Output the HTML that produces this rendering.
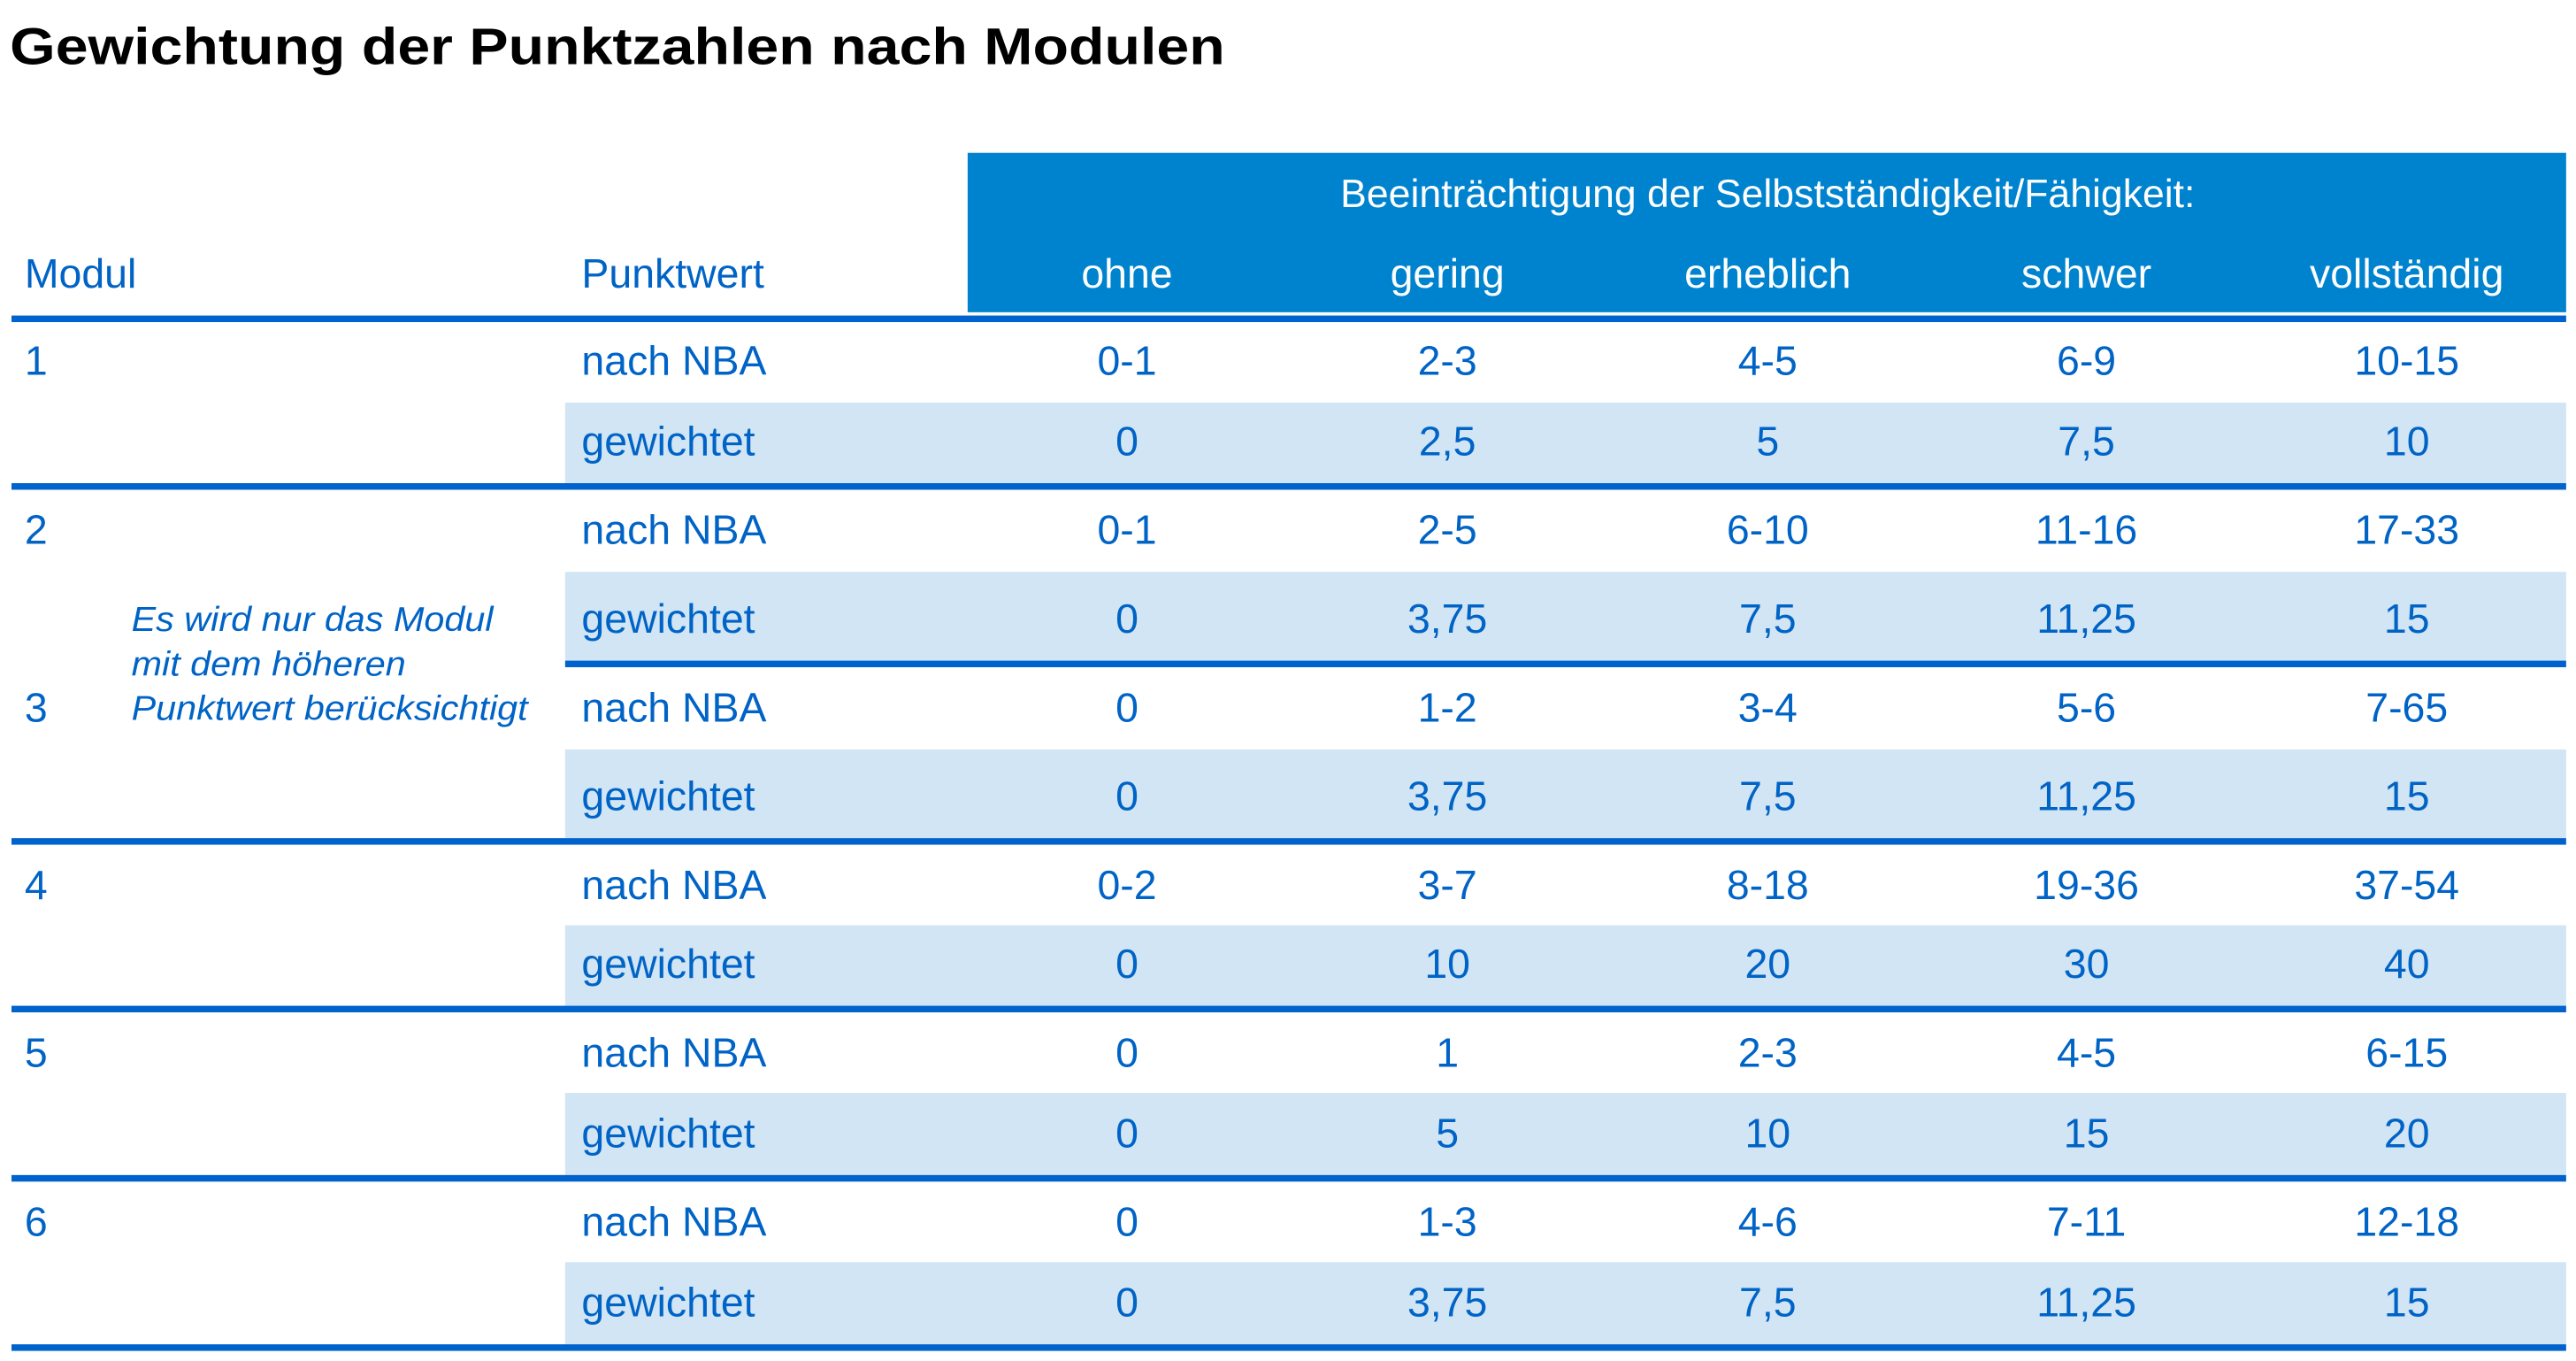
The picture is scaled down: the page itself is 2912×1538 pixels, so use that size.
<!DOCTYPE html>
<html><head><meta charset="utf-8"><style>
html,body{margin:0;padding:0;background:#fff;overflow:hidden}
#w{position:absolute;left:0;top:0;width:1568px;height:828px;transform:scale(1.857143);transform-origin:0 0;font-family:"Liberation Sans",sans-serif;color:#0063c6}
.t{position:absolute;font-size:25px;line-height:30px;white-space:nowrap}
.c{transform:translateX(-50%)}
.bg{position:absolute;left:344px;width:1218px;background:#d1e5f4}
.r{position:absolute;left:7px;width:1555px;height:4px;background:#0062cc}
</style></head><body><div id="w">
<div class="t" style="left:6px;top:10px;font-size:31.5px;font-weight:bold;color:#000;line-height:36px;transform:scaleX(1.133);transform-origin:0 0">Gewichtung der Punktzahlen nach Modulen</div>
<div style="position:absolute;left:589px;top:93px;width:973px;height:97px;background:#0083cf"></div>
<div class="t c" style="left:1076px;top:104px;color:#fff;font-size:24px">Beeinträchtigung der Selbstständigkeit/Fähigkeit:</div>
<div class="t" style="left:15px;top:152px">Modul</div>
<div class="t" style="left:354px;top:152px">Punktwert</div>
<div class="t c" style="left:686px;top:152px;color:#fff">ohne</div>
<div class="t c" style="left:881px;top:152px;color:#fff">gering</div>
<div class="t c" style="left:1076px;top:152px;color:#fff">erheblich</div>
<div class="t c" style="left:1270px;top:152px;color:#fff">schwer</div>
<div class="t c" style="left:1465px;top:152px;color:#fff">vollständig</div>
<div class="r" style="top:192px"></div>
<div class="bg" style="top:245px;height:49px"></div>
<div class="r" style="top:294px"></div>
<div class="bg" style="top:348px;height:54px"></div>
<div class="r" style="top:402px;left:344px;width:1218px"></div>
<div class="bg" style="top:456px;height:54px"></div>
<div class="r" style="top:510px"></div>
<div class="bg" style="top:563px;height:49px"></div>
<div class="r" style="top:612px"></div>
<div class="bg" style="top:665px;height:50px"></div>
<div class="r" style="top:715px"></div>
<div class="bg" style="top:768px;height:50px"></div>
<div class="r" style="top:818px"></div>
<div class="t" style="left:80px;top:364px;font-style:italic;font-size:21px;line-height:27px;transform:scaleX(1.06);transform-origin:0 0">Es wird nur das Modul<br>mit dem höheren<br>Punktwert berücksichtigt</div>
<div id="rows"></div>
</div>
<script>
var rows=[["1",220,"nach NBA",["0-1","2-3","4-5","6-9","10-15"]],["",269,"gewichtet",["0","2,5","5","7,5","10"]],
["2",323,"nach NBA",["0-1","2-5","6-10","11-16","17-33"]],["",377,"gewichtet",["0","3,75","7,5","11,25","15"]],
["3",431,"nach NBA",["0","1-2","3-4","5-6","7-65"]],["",485,"gewichtet",["0","3,75","7,5","11,25","15"]],
["4",539,"nach NBA",["0-2","3-7","8-18","19-36","37-54"]],["",587,"gewichtet",["0","10","20","30","40"]],
["5",641,"nach NBA",["0","1","2-3","4-5","6-15"]],["",690,"gewichtet",["0","5","10","15","20"]],
["6",744,"nach NBA",["0","1-3","4-6","7-11","12-18"]],["",793,"gewichtet",["0","3,75","7,5","11,25","15"]]];
var cx=[686,881,1076,1270,1465],h="";
rows.forEach(function(r){var y=r[1]-15;
if(r[0])h+='<div class="t" style="left:15px;top:'+y+'px">'+r[0]+'</div>';
h+='<div class="t" style="left:354px;top:'+y+'px">'+r[2]+'</div>';
r[3].forEach(function(v,i){h+='<div class="t c" style="left:'+cx[i]+'px;top:'+y+'px">'+v+'</div>';});});
document.getElementById('rows').outerHTML=h;
</script>
</body></html>
